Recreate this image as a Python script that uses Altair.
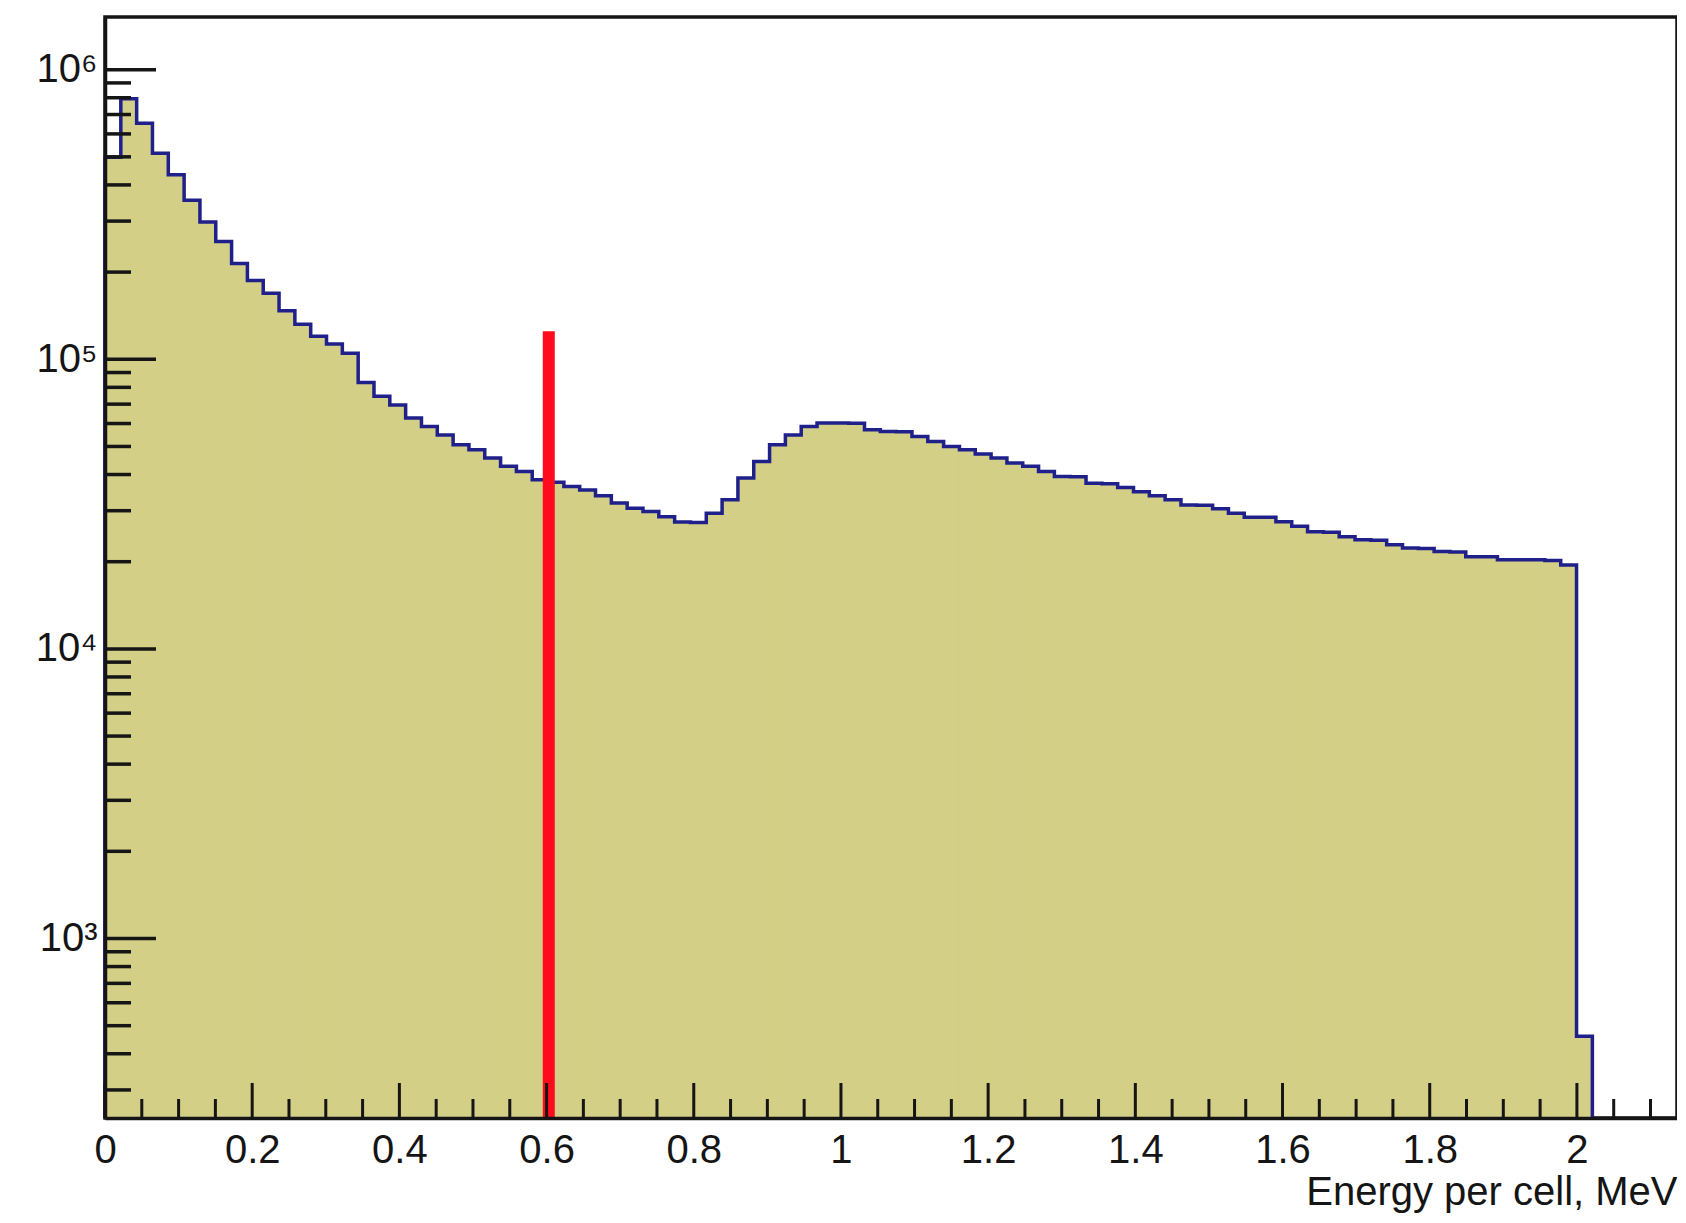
import altair as alt
import pandas as pd

# ---- data ----
bin_width = 0.0215  # MeV per bin
bin_counts = [
    498000, 793000, 653000, 514000, 434000, 354000, 298000, 255000, 214000, 187000,
    169000, 147000, 132000, 120000, 113000, 105000, 83200, 74500, 69500, 62700,
    58600, 54800, 50700, 48700, 45600, 42700, 41000, 38400, 37600, 36400,
    35400, 33800, 31900, 30600, 29800, 28600, 27400, 27300, 29400, 32700,
    38900, 44400, 50700, 54800, 58600, 60200, 60300, 60100, 57100, 56300,
    56200, 54100, 52000, 50000, 48700, 47100, 45600, 43800, 42700, 41000,
    39400, 39300, 37300, 37200, 36100, 34900, 33800, 32700, 31400, 31300,
    30500, 29400, 28500, 28500, 27500, 26500, 25400, 25300, 24400, 23800,
    23700, 22900, 22300, 22200, 21700, 21600, 20800, 20800, 20300, 20300,
    20300, 20200, 19500, 460,
]
threshold_energy = [0.603]
threshold_top = [125000]

x_major_ticks = [0, 0.2, 0.4, 0.6, 0.8, 1.0, 1.2, 1.4, 1.6, 1.8, 2.0]
x_minor_ticks = [0.05, 0.1, 0.15, 0.25, 0.3, 0.35, 0.45, 0.5, 0.55, 0.65, 0.7, 0.75,
                 0.85, 0.9, 0.95, 1.05, 1.1, 1.15, 1.25, 1.3, 1.35, 1.45, 1.5, 1.55,
                 1.65, 1.7, 1.75, 1.85, 1.9, 1.95, 2.05, 2.1]
y_major_ticks = [1000, 10000, 100000, 1000000]
y_tick_labels = ["10³", "10⁴", "10⁵", "10⁶"]
y_minor_ticks = [m * 10 ** e for e in range(2, 6) for m in range(2, 10)
                 if 240 <= m * 10 ** e <= 1.52e6]

x_domain = [0, 2.136]
y_domain = [240, 1.52e6]

# ---- layout / style ----
W, H = 1572, 1101
FONT = "Liberation Sans"
FILL = "#d3cf86"
LINE = "#20208a"
INK = "#151515"

xs = alt.Scale(domain=x_domain, nice=False, zero=False)
ys = alt.Scale(type="log", domain=y_domain, nice=False)

edges = [round(i * bin_width, 6) for i in range(len(bin_counts) + 1)]
bins_df = pd.DataFrame({"energy": edges[:-1], "energy_end": edges[1:], "count": bin_counts})
outline_df = pd.DataFrame({
    "energy": [0.0] + edges + [edges[-1]],
    "count": [y_domain[0]] + bin_counts + [bin_counts[-1], y_domain[0]],
})
outline_df["order"] = range(len(outline_df))

label_expr = " : ".join(
    f"datum.value == {v} ? '{lab}'" for v, lab in zip(y_major_ticks, y_tick_labels)
) + " : ''"

x_axis = alt.Axis(values=x_major_ticks, format="~g", ticks=False, tickSize=0, grid=False,
                  domain=True, domainColor=INK, domainWidth=3.5, zindex=1,
                  labelFont=FONT, labelFontSize=40, labelColor=INK, labelPadding=12,
                  labelFlush=False, labelOverlap=False,
                  title="Energy per cell, MeV", titleFont=FONT, titleFontSize=40,
                  titleFontWeight="normal", titleColor=INK, titleAnchor="end",
                  titleAlign="right", titleBaseline="alphabetic", titleX=W, titleY=86)
y_axis = alt.Axis(values=y_major_ticks, labelExpr=label_expr, ticks=False, tickSize=0,
                  grid=False, domain=True, domainColor=INK, domainWidth=3.5, zindex=1,
                  labelFont=FONT, labelFontSize=40, labelColor=INK, labelPadding=8,
                  labelOverlap=False, labelFlush=False, title="")


def X(field):
    return alt.X(field, scale=xs, axis=x_axis, title="Energy per cell, MeV")


def Y(field):
    return alt.Y(field, scale=ys, axis=y_axis, title="")


fill = alt.Chart(bins_df).mark_rect(color=FILL, stroke=FILL, strokeWidth=1).encode(
    x=X("energy:Q"), x2="energy_end:Q",
    y=Y("count:Q"), y2=alt.value(H),
)

outline = alt.Chart(outline_df).mark_line(interpolate="step-after", color=LINE,
                                           strokeWidth=3.5).encode(
    x=X("energy:Q"), y=Y("count:Q"), order="order:Q",
)

red = alt.Chart(pd.DataFrame({"energy": threshold_energy, "top": threshold_top})).mark_rule(
    color="#ff0b1d", strokeWidth=12, strokeCap="butt").encode(
    x=X("energy:Q"), y=Y("top:Q"), y2=alt.value(H),
)

xmaj = alt.Chart(pd.DataFrame({"energy": x_major_ticks})).mark_rule(color=INK, strokeWidth=3).encode(
    x=X("energy:Q"), y=alt.value(H), y2=alt.value(H - 35))
xmin = alt.Chart(pd.DataFrame({"energy": x_minor_ticks})).mark_rule(color=INK, strokeWidth=3).encode(
    x=X("energy:Q"), y=alt.value(H), y2=alt.value(H - 19))
ymaj = alt.Chart(pd.DataFrame({"count": y_major_ticks})).mark_rule(color=INK, strokeWidth=3.5).encode(
    y=Y("count:Q"), x=alt.value(0), x2=alt.value(51))
ymin = alt.Chart(pd.DataFrame({"count": y_minor_ticks})).mark_rule(color=INK, strokeWidth=3.5).encode(
    y=Y("count:Q"), x=alt.value(0), x2=alt.value(26))

chart = alt.layer(fill, outline, red, xmaj, xmin, ymaj, ymin).properties(
    width=W, height=H,
    padding={"left": 97, "top": 9, "right": 0, "bottom": 95},
    autosize=alt.AutoSizeParams(type="none"),
    background="white",
).configure_view(stroke=INK, strokeWidth=3.5)

chart.save("out.html", embed_options={"renderer": "svg", "actions": False})
